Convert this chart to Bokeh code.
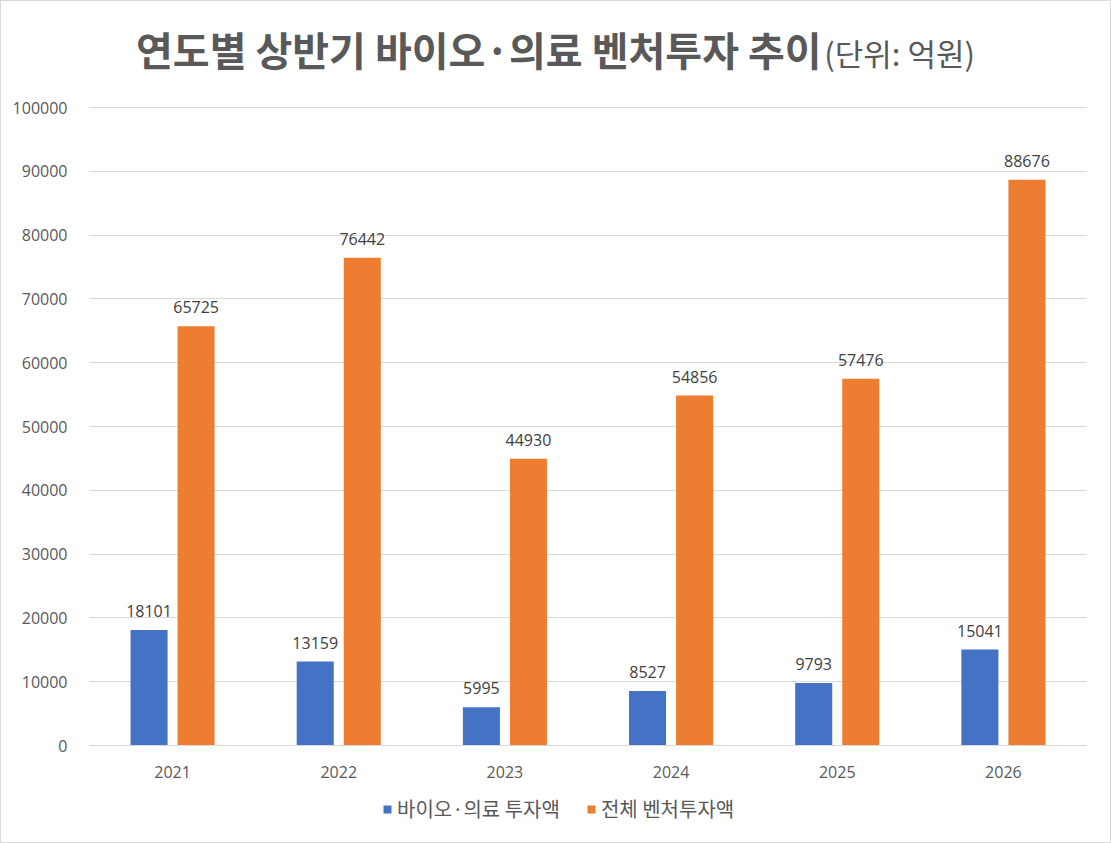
from bokeh.plotting import figure
from bokeh.models import (ColumnDataSource, FactorRange, Range1d, FixedTicker,
                          NumeralTickFormatter, Legend, LegendItem, LabelSet, Div)
from bokeh.layouts import column
from bokeh.transform import dodge
from bokeh.core.properties import value
from bokeh.embed import file_html
from bokeh.resources import INLINE

years = ["2021", "2022", "2023", "2024", "2025", "2026"]
bio = [18101, 13159, 5995, 8527, 9793, 15041]
total = [65725, 76442, 44930, 54856, 57476, 88676]
y_ticks = [0, 10000, 20000, 30000, 40000, 50000, 60000, 70000, 80000, 90000, 100000]
series_names = ["바이오·의료 투자액", "전체 벤처투자액"]
title_main = "연도별 상반기 바이오·의료 벤처투자 추이"
title_unit = "(단위: 억원)"

BLUE = "#4472C4"
ORANGE = "#ED7D31"
GRAY = "#595959"
EDGE = "#d9d9d9"
KR = "Noto Sans CJK KR"
NUM = "Open Sans"

src = ColumnDataSource(dict(
    years=years, bio=bio, total=total,
    bio_lbl=[str(v) for v in bio], total_lbl=[str(v) for v in total],
))

title_div = Div(
    text=(f'<div style="width:1109px;text-align:center;padding-top:23px;line-height:50px;'
          f'color:{GRAY};font-family:\'{KR}\';white-space:nowrap;">'
          f'<span style="font-size:40px;font-weight:bold;">{title_main}</span> '
          f'<span style="font-size:31px;">{title_unit}</span></div>'),
    width=1111, height=80,
    styles={"margin": "0", "padding": "0", "box-sizing": "border-box",
            "border-top": f"1px solid {EDGE}", "border-left": f"1px solid {EDGE}",
            "border-right": f"1px solid {EDGE}", "background": "white"})

p = figure(width=1111, height=710, output_backend="svg", toolbar_location=None,
           x_range=FactorRange(*years, range_padding=0), y_range=Range1d(0, 100157),
           min_border_left=88, min_border_right=26, min_border_top=26, min_border_bottom=45)
p.outline_line_color = None
p.background_fill_color = "white"
p.border_fill_color = "white"
p.styles = {"box-sizing": "border-box",
            "border-left": f"1px solid {EDGE}", "border-right": f"1px solid {EDGE}"}

off = 0.1416
bw = 0.223
r1 = p.vbar(x=dodge("years", -off, range=p.x_range), top="bio", width=bw, source=src,
            fill_color=BLUE, line_color=None)
r2 = p.vbar(x=dodge("years", off, range=p.x_range), top="total", width=bw, source=src,
            fill_color=ORANGE, line_color=None)

for col, lbl, o in (("bio", "bio_lbl", -off), ("total", "total_lbl", off)):
    ls = LabelSet(x=dodge("years", o, range=p.x_range), y=col, text=lbl, source=src,
                  text_align="center", text_baseline="bottom", y_offset=13,
                  text_font=value(NUM), text_font_size="16px", text_color="#404040")
    p.add_layout(ls)

p.yaxis.ticker = FixedTicker(ticks=y_ticks)
p.yaxis.formatter = NumeralTickFormatter(format="0")
p.yaxis.axis_line_color = None
p.yaxis.major_tick_line_color = None
p.yaxis.minor_tick_line_color = None
p.yaxis.major_label_text_font = NUM
p.yaxis.major_label_text_font_size = "16px"
p.yaxis.major_label_text_color = GRAY
p.yaxis.major_label_standoff = 16

p.xaxis.axis_line_color = EDGE
p.xaxis.major_tick_line_color = None
p.xaxis.minor_tick_line_color = None
p.xaxis.major_label_text_font = NUM
p.xaxis.major_label_text_font_size = "16px"
p.xaxis.major_label_text_color = GRAY
p.xaxis.major_label_standoff = 14

p.xgrid.grid_line_color = None
p.ygrid.grid_line_color = EDGE
p.ygrid.grid_line_width = 1

# legend strip
p2 = figure(width=1111, height=53, output_backend="svg", toolbar_location=None,
            x_range=Range1d(0, 1), y_range=Range1d(0, 1),
            x_axis_type=None, y_axis_type=None,
            min_border_left=0, min_border_right=0, min_border_top=0, min_border_bottom=0)
p2.outline_line_color = None
p2.xgrid.grid_line_color = None
p2.ygrid.grid_line_color = None
p2.border_fill_color = "white"
p2.styles = {"box-sizing": "border-box", "border-left": f"1px solid {EDGE}",
             "border-right": f"1px solid {EDGE}", "border-bottom": f"1px solid {EDGE}"}
l1 = p2.vbar(x=[-5], top=[-5], width=0.1, fill_color=BLUE, line_color=None)
l2 = p2.vbar(x=[-5], top=[-5], width=0.1, fill_color=ORANGE, line_color=None)

legend = Legend(items=[LegendItem(label=series_names[0], renderers=[l1]),
                       LegendItem(label=series_names[1], renderers=[l2])],
                orientation="horizontal", location=(293, 20),
                label_text_font=KR, label_text_font_size="20px", label_text_color=GRAY,
                glyph_width=10, glyph_height=10, spacing=26, label_standoff=5,
                label_height=20,
                border_line_color=None, background_fill_alpha=0, margin=0, padding=0)
p2.add_layout(legend)

layout = column(title_div, p, p2, spacing=0)

open("out.html", "w").write(file_html(layout, INLINE))
